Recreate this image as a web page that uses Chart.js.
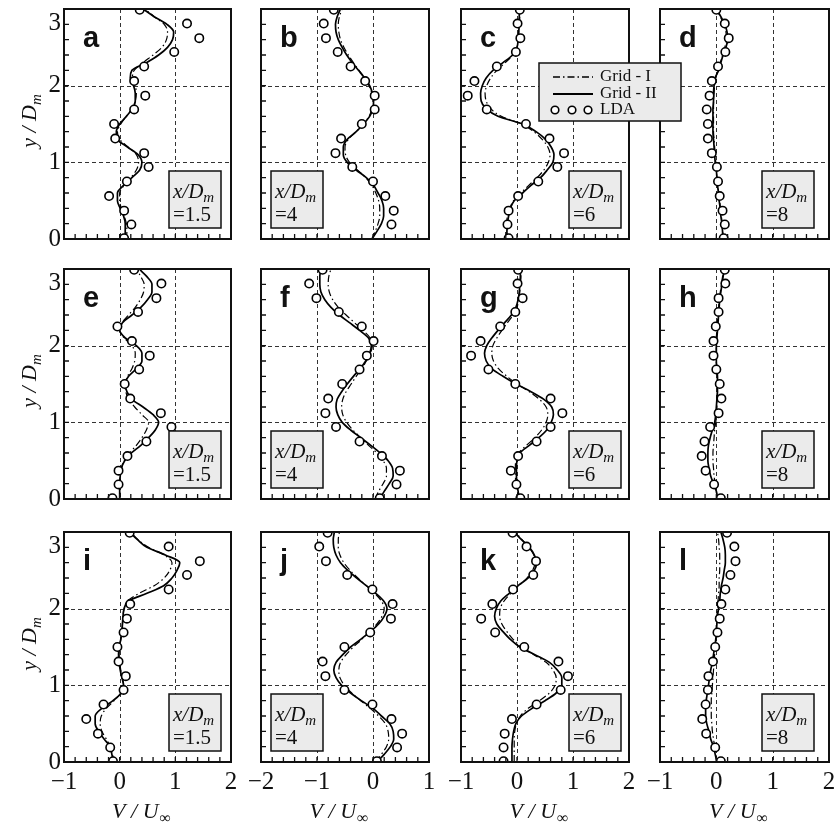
<!DOCTYPE html>
<html>
<head>
<meta charset="utf-8">
<script src="https://cdn.jsdelivr.net/npm/chart.js@4.4.1/dist/chart.umd.min.js"></script>
<style>
  html, body { margin: 0; padding: 0; background: #fff; }
  #figure { position: relative; width: 834px; height: 830px; overflow: hidden; }
  #figure canvas { position: absolute; }
</style>
</head>
<body>
<div id="figure"></div>
<script>
// heights (y / D_m) where the simulated profiles are sampled
const yKnots = [0.0, 0.1, 0.2, 0.3, 0.4, 0.5, 0.6, 0.7, 0.8, 0.9, 1.0, 1.1, 1.2, 1.3, 1.4, 1.5,
                1.6, 1.7, 1.8, 1.9, 2.0, 2.1, 2.2, 2.3, 2.4, 2.5, 2.6, 2.7, 2.8, 2.9, 3.0];
// LDA measuring stations (y / D_m)
const ldaY = [0.01, 0.19, 0.37, 0.56, 0.75, 0.94, 1.12, 1.31, 1.50, 1.69, 1.87, 2.06, 2.25, 2.44, 2.62, 2.81, 2.99];

const panelLetters = ["a", "b", "c", "d", "e", "f", "g", "h", "i", "j", "k", "l"];
const stations = ["1.5", "4", "6", "8"];          // x / D_m of each column
const xRanges = [[-1, 2], [-2, 1], [-1, 2], [-1, 2]];
const yTicks = [0, 1, 2, 3];
const legendLabels = ["Grid - I", "Grid - II", "LDA"];

// V / U_inf, row 1 (x/D_m = 1.5, 4, 6, 8)
const grid1A = [0.12, 0.13, 0.12, 0.08, 0.03, 0.0, 0.0, 0.08, 0.20, 0.30, 0.34, 0.30, 0.15, 0.0, -0.04, 0.02, 0.12, 0.22, 0.28, 0.30, 0.28, 0.23, 0.26, 0.42, 0.60, 0.76, 0.84, 0.86, 0.80, 0.62, 0.45];
const grid2A = [0.10, 0.10, 0.10, 0.07, 0.01, -0.04, -0.04, 0.07, 0.22, 0.36, 0.40, 0.33, 0.14, -0.04, -0.06, 0.0, 0.12, 0.23, 0.28, 0.28, 0.25, 0.19, 0.22, 0.48, 0.70, 0.86, 0.95, 0.97, 0.85, 0.62, 0.42];
const ldaA = [0.08, 0.21, 0.08, -0.19, 0.13, 0.52, 0.44, -0.08, -0.10, 0.26, 0.46, 0.26, 0.44, 0.98, 1.43, 1.21, 0.36];

const grid1B = [-0.02, 0.04, 0.09, 0.12, 0.12, 0.10, 0.05, -0.02, -0.13, -0.28, -0.42, -0.49, -0.50, -0.44, -0.30, -0.17, -0.07, -0.02, 0.0, -0.02, -0.07, -0.15, -0.25, -0.35, -0.44, -0.52, -0.58, -0.61, -0.62, -0.60, -0.55];
const grid2B = [-0.02, 0.07, 0.15, 0.19, 0.19, 0.16, 0.09, 0.01, -0.12, -0.30, -0.46, -0.53, -0.53, -0.46, -0.30, -0.17, -0.06, 0.0, 0.01, -0.01, -0.06, -0.15, -0.26, -0.37, -0.47, -0.55, -0.62, -0.66, -0.67, -0.64, -0.58];
const ldaB = [null, 0.33, 0.37, 0.22, 0.0, -0.37, -0.67, -0.57, -0.20, 0.03, 0.03, -0.14, -0.40, -0.63, -0.84, -0.88, -0.70];

const grid1C = [-0.20, -0.20, -0.19, -0.17, -0.13, -0.06, 0.07, 0.21, 0.36, 0.48, 0.56, 0.59, 0.55, 0.45, 0.30, 0.08, -0.28, -0.47, -0.55, -0.57, -0.54, -0.47, -0.36, -0.21, -0.07, 0.0, 0.02, 0.03, 0.04, 0.05, 0.06];
const grid2C = [-0.18, -0.18, -0.17, -0.15, -0.12, -0.05, 0.10, 0.25, 0.42, 0.54, 0.64, 0.66, 0.61, 0.51, 0.34, 0.10, -0.34, -0.55, -0.64, -0.65, -0.62, -0.55, -0.43, -0.25, -0.08, 0.0, 0.02, 0.03, 0.04, 0.04, 0.05];
const ldaC = [-0.15, -0.17, -0.15, 0.02, 0.38, 0.72, 0.84, 0.58, 0.16, -0.54, -0.88, -0.76, -0.36, -0.02, 0.06, 0.01, 0.05];

const grid1D = [0.12, 0.11, 0.10, 0.09, 0.07, 0.06, 0.04, 0.03, 0.01, 0.0, -0.01, -0.02, -0.03, -0.04, -0.05, -0.05, -0.05, -0.05, -0.05, -0.04, -0.03, -0.01, 0.03, 0.07, 0.11, 0.15, 0.18, 0.17, 0.13, 0.07, 0.0];
const grid2D = [0.12, 0.11, 0.10, 0.08, 0.07, 0.05, 0.04, 0.02, 0.01, 0.0, -0.02, -0.03, -0.04, -0.05, -0.06, -0.06, -0.06, -0.06, -0.05, -0.05, -0.04, -0.02, 0.04, 0.08, 0.12, 0.17, 0.20, 0.19, 0.15, 0.08, 0.0];
const ldaD = [0.13, 0.15, 0.11, 0.06, 0.03, 0.01, -0.08, -0.15, -0.15, -0.17, -0.12, -0.08, 0.03, 0.16, 0.22, 0.15, 0.0];

// row 2
const grid1E = [0.0, 0.0, 0.0, 0.01, 0.03, 0.08, 0.18, 0.30, 0.40, 0.48, 0.52, 0.40, 0.27, 0.16, 0.11, 0.10, 0.14, 0.22, 0.27, 0.28, 0.22, 0.08, 0.0, 0.04, 0.16, 0.28, 0.37, 0.43, 0.44, 0.38, 0.30];
const grid2E = [0.0, 0.0, 0.0, 0.01, 0.03, 0.09, 0.21, 0.38, 0.52, 0.64, 0.70, 0.60, 0.42, 0.22, 0.13, 0.10, 0.16, 0.30, 0.40, 0.40, 0.30, 0.10, 0.0, 0.05, 0.22, 0.38, 0.50, 0.58, 0.58, 0.49, 0.35];
const ldaE = [-0.13, -0.02, -0.02, 0.14, 0.48, 0.93, 0.74, 0.19, 0.09, 0.35, 0.54, 0.22, -0.04, 0.33, 0.66, 0.75, 0.26];

const grid1F = [0.04, 0.10, 0.18, 0.24, 0.24, 0.18, 0.07, -0.08, -0.22, -0.36, -0.47, -0.54, -0.56, -0.54, -0.48, -0.39, -0.30, -0.20, -0.12, -0.05, -0.01, -0.05, -0.18, -0.33, -0.48, -0.62, -0.72, -0.78, -0.80, -0.79, -0.75];
const grid2F = [0.12, 0.20, 0.29, 0.36, 0.35, 0.27, 0.13, -0.04, -0.22, -0.40, -0.55, -0.63, -0.66, -0.64, -0.56, -0.46, -0.35, -0.23, -0.13, -0.06, -0.03, -0.08, -0.24, -0.42, -0.60, -0.75, -0.86, -0.93, -0.95, -0.95, -0.93];
const ldaF = [0.12, 0.42, 0.48, 0.16, -0.24, -0.66, -0.85, -0.80, -0.55, -0.24, -0.11, 0.01, -0.20, -0.61, -1.01, -1.14, -0.90];

const grid1G = [0.03, 0.01, -0.01, -0.03, -0.03, -0.02, 0.03, 0.17, 0.32, 0.44, 0.52, 0.55, 0.52, 0.40, 0.22, 0.0, -0.18, -0.33, -0.42, -0.45, -0.43, -0.36, -0.27, -0.17, -0.07, 0.0, 0.03, 0.05, 0.06, 0.07, 0.07];
const grid2G = [0.04, 0.02, 0.0, -0.01, -0.01, 0.0, 0.05, 0.22, 0.39, 0.53, 0.61, 0.65, 0.62, 0.48, 0.25, -0.02, -0.25, -0.45, -0.55, -0.58, -0.54, -0.45, -0.34, -0.22, -0.10, -0.02, 0.02, 0.04, 0.05, 0.06, 0.06];
const ldaG = [0.06, -0.01, -0.11, 0.02, 0.35, 0.60, 0.81, 0.60, -0.03, -0.51, -0.82, -0.65, -0.30, -0.03, 0.10, 0.01, 0.02];

const grid1H = [0.02, 0.0, -0.02, -0.04, -0.05, -0.06, -0.06, -0.05, -0.04, -0.03, -0.01, 0.0, 0.01, 0.01, 0.02, 0.02, 0.02, 0.01, 0.0, 0.0, 0.0, 0.0, 0.01, 0.02, 0.03, 0.04, 0.05, 0.07, 0.09, 0.11, 0.13];
const grid2H = [0.02, 0.0, -0.05, -0.10, -0.13, -0.15, -0.15, -0.14, -0.11, -0.07, -0.03, -0.01, 0.0, 0.01, 0.02, 0.02, 0.02, 0.01, 0.0, 0.0, 0.0, 0.01, 0.02, 0.03, 0.04, 0.05, 0.06, 0.08, 0.10, 0.12, 0.14];
const ldaH = [0.08, -0.04, -0.19, -0.26, -0.21, -0.11, 0.04, 0.09, 0.06, 0.0, -0.05, -0.05, -0.01, 0.04, 0.04, 0.16, 0.15];

// row 3
const grid1I = [-0.10, -0.13, -0.17, -0.24, -0.32, -0.35, -0.33, -0.24, -0.10, 0.02, 0.07, 0.05, 0.02, 0.0, -0.01, 0.0, 0.02, 0.04, 0.05, 0.06, 0.08, 0.14, 0.35, 0.62, 0.80, 0.90, 0.94, 0.80, 0.52, 0.33, 0.20];
const grid2I = [-0.11, -0.14, -0.17, -0.28, -0.38, -0.44, -0.44, -0.32, -0.12, 0.03, 0.07, 0.04, 0.01, -0.01, -0.02, -0.01, 0.02, 0.04, 0.05, 0.06, 0.08, 0.16, 0.49, 0.79, 0.94, 1.03, 1.08, 0.82, 0.49, 0.32, 0.18];
const ldaI = [-0.12, -0.17, -0.39, -0.60, -0.29, 0.07, 0.11, -0.02, -0.04, 0.07, 0.13, 0.19, 0.88, 1.21, 1.44, 0.88, 0.18];

const grid1J = [0.05, 0.15, 0.24, 0.28, 0.27, 0.22, 0.10, -0.05, -0.22, -0.38, -0.51, -0.59, -0.61, -0.58, -0.48, -0.35, -0.20, -0.06, 0.07, 0.16, 0.20, 0.15, 0.03, -0.12, -0.27, -0.41, -0.52, -0.59, -0.62, -0.62, -0.60];
const grid2J = [0.07, 0.20, 0.31, 0.37, 0.36, 0.30, 0.15, 0.0, -0.21, -0.40, -0.56, -0.66, -0.70, -0.66, -0.54, -0.40, -0.22, -0.05, 0.10, 0.20, 0.25, 0.19, 0.05, -0.12, -0.29, -0.45, -0.58, -0.66, -0.70, -0.71, -0.69];
const ldaJ = [0.07, 0.43, 0.52, 0.33, -0.01, -0.51, -0.85, -0.90, -0.51, -0.05, 0.32, 0.35, -0.01, -0.46, -0.84, -0.96, -0.81];

const grid1K = [-0.05, -0.05, -0.05, -0.05, -0.04, -0.01, 0.06, 0.20, 0.40, 0.58, 0.68, 0.70, 0.64, 0.52, 0.30, 0.08, -0.07, -0.18, -0.27, -0.31, -0.30, -0.23, -0.11, 0.03, 0.18, 0.28, 0.32, 0.30, 0.21, 0.09, -0.03];
const grid2K = [-0.09, -0.09, -0.09, -0.08, -0.06, -0.02, 0.08, 0.27, 0.50, 0.70, 0.80, 0.80, 0.72, 0.58, 0.32, 0.05, -0.12, -0.25, -0.36, -0.40, -0.37, -0.29, -0.14, 0.02, 0.20, 0.31, 0.35, 0.31, 0.22, 0.08, -0.05];
const ldaK = [-0.24, -0.24, -0.22, -0.09, 0.35, 0.78, 0.91, 0.74, 0.13, -0.39, -0.64, -0.44, -0.07, 0.29, 0.34, 0.17, -0.08];

const grid1L = [0.01, -0.01, -0.03, -0.05, -0.07, -0.08, -0.09, -0.09, -0.09, -0.08, -0.07, -0.06, -0.05, -0.04, -0.03, -0.02, -0.01, 0.0, 0.0, 0.01, 0.02, 0.03, 0.04, 0.05, 0.05, 0.06, 0.06, 0.06, 0.05, 0.04, 0.02];
const grid2L = [0.01, -0.02, -0.05, -0.10, -0.13, -0.17, -0.19, -0.19, -0.18, -0.16, -0.14, -0.12, -0.10, -0.07, -0.05, -0.03, -0.01, 0.0, 0.01, 0.02, 0.04, 0.06, 0.07, 0.09, 0.12, 0.14, 0.16, 0.16, 0.15, 0.12, 0.08];
const ldaL = [0.08, -0.02, -0.18, -0.25, -0.19, -0.15, -0.14, -0.06, -0.02, 0.02, 0.06, 0.09, 0.16, 0.25, 0.34, 0.32, 0.19];

const grid1Sets = [grid1A, grid1B, grid1C, grid1D, grid1E, grid1F, grid1G, grid1H, grid1I, grid1J, grid1K, grid1L];
const grid2Sets = [grid2A, grid2B, grid2C, grid2D, grid2E, grid2F, grid2G, grid2H, grid2I, grid2J, grid2K, grid2L];
const ldaSets = [ldaA, ldaB, ldaC, ldaD, ldaE, ldaF, ldaG, ldaH, ldaI, ldaJ, ldaK, ldaL];

// page geometry of the plot frames
const plotLeft = [64, 261, 461, 660];
const plotWidth = [167, 168, 168, 169];
const plotTop = [9, 269, 532];
const plotHeight = 230;
const axisRoom = 64, topRoom = 10, bottomRoom = 70;
const boxOffset = [105, 10, 108, 102];   // x/D_m label box, from frame left

const SERIF = '"Liberation Serif", "Times New Roman", serif';
const SANS = '"Liberation Sans", Arial, sans-serif';
const BOX_FILL = "#ebebeb";

const minus = v => (v < 0 ? "\u2212" + Math.abs(v) : String(v));

// draw a run of text pieces (main text + subscript), starting at x
function drawPieces(ctx, pieces, x, y) {
  pieces.forEach(p => {
    ctx.font = p.font;
    ctx.fillText(p.text, x, y + (p.dy || 0));
    x += ctx.measureText(p.text).width + (p.gap || 0);
  });
}
function piecesWidth(ctx, pieces) {
  return pieces.reduce((w, p) => { ctx.font = p.font; return w + ctx.measureText(p.text).width + (p.gap || 0); }, 0);
}

// dashed grid, inward minor ticks and the frame
const framePlugin = {
  id: "frame",
  beforeDatasetsDraw(chart) {
    const { ctx, chartArea: a, scales: { x, y } } = chart;
    ctx.save();
    ctx.strokeStyle = "#333";
    ctx.lineWidth = 1;
    ctx.setLineDash([4, 3]);
    ctx.beginPath();
    for (let v = x.min + 1; v < x.max; v++) {
      const px = Math.round(x.getPixelForValue(v)) + 0.5;
      ctx.moveTo(px, a.top); ctx.lineTo(px, a.bottom);
    }
    for (let v = y.min + 1; v < y.max; v++) {
      const py = Math.round(y.getPixelForValue(v)) + 0.5;
      ctx.moveTo(a.left, py); ctx.lineTo(a.right, py);
    }
    ctx.stroke();
    ctx.restore();
  },
  afterDatasetsDraw(chart) {
    const { ctx, chartArea: a, scales: { x, y } } = chart;
    ctx.save();
    ctx.strokeStyle = "#111";
    ctx.lineWidth = 1.3;
    ctx.beginPath();
    for (let k = 1; k < 15; k++) {
      const px = x.getPixelForValue(x.min + k * 0.2);
      ctx.moveTo(px, a.bottom); ctx.lineTo(px, a.bottom - 5);
      const py = y.getPixelForValue(y.min + k * 0.2);
      ctx.moveTo(a.left, py); ctx.lineTo(a.left + 5, py);
    }
    ctx.stroke();
    ctx.lineWidth = 2;
    ctx.strokeRect(a.left, a.top, a.right - a.left, a.bottom - a.top);
    ctx.restore();
  }
};

function makeDecor(i, col, row) {
  return {
    id: "decor",
    afterDraw(chart) {
      const { ctx, chartArea: a, scales: { y } } = chart;
      ctx.save();
      ctx.fillStyle = "#111";
      ctx.strokeStyle = "#111";

      // panel letter
      ctx.font = "bold 29px " + SANS;
      ctx.textAlign = "left";
      ctx.textBaseline = "alphabetic";
      ctx.fillText(panelLetters[i], a.left + 19, a.top + 38);

      // station box
      const bx = a.left + boxOffset[col], bw = 52, bh = 57;
      const by = a.bottom - 11 - bh;
      ctx.fillStyle = BOX_FILL;
      ctx.fillRect(bx, by, bw, bh);
      ctx.lineWidth = 1.5;
      ctx.strokeRect(bx, by, bw, bh);
      ctx.fillStyle = "#111";
      drawPieces(ctx, [
        { text: "x/D", font: "italic 21px " + SERIF },
        { text: "m", font: "italic 15px " + SERIF, dy: 4 }
      ], bx + 4, by + 27);
      ctx.font = "21px " + SERIF;
      ctx.fillText("=" + stations[col], bx + 4, by + 50);

      // y ticks and title on the left column
      if (col === 0) {
        ctx.font = "25px " + SERIF;
        ctx.textAlign = "right";
        ctx.textBaseline = "middle";
        yTicks.forEach(v => {
          const py = Math.max(y.getPixelForValue(v), a.top + 14);
          ctx.fillText(String(v), a.left - 3, py);
        });
        const title = [
          { text: "y / D", font: "italic 22px " + SERIF },
          { text: "m", font: "italic 15px " + SERIF, dy: 5 }
        ];
        ctx.save();
        ctx.translate(28, (a.top + a.bottom) / 2 - 3);
        ctx.rotate(-Math.PI / 2);
        ctx.textAlign = "left";
        ctx.textBaseline = "alphabetic";
        drawPieces(ctx, title, -piecesWidth(ctx, title) / 2, 8);
        ctx.restore();
      }

      // x title under the bottom row
      if (row === 2) {
        const title = [
          { text: "V / U", font: "italic 22px " + SERIF, gap: 1 },
          { text: "\u221e", font: "16px " + SERIF, dy: 5 }
        ];
        ctx.textAlign = "left";
        ctx.textBaseline = "alphabetic";
        const cx = (a.left + a.right) / 2 - 6;
        drawPieces(ctx, title, cx - piecesWidth(ctx, title) / 2, a.bottom + 56);
      }

      // legend, placed in panel c and overlapping panel d
      if (i === 2) {
        const lx = a.left + 78, ly = a.top + 54, lw = 142, lh = 58;
        ctx.fillStyle = BOX_FILL;
        ctx.fillRect(lx, ly, lw, lh);
        ctx.lineWidth = 1.5;
        ctx.strokeRect(lx, ly, lw, lh);
        const rows = [ly + 14, ly + 31, ly + 47];
        ctx.strokeStyle = "#000";
        ctx.lineWidth = 1.3;
        ctx.setLineDash([7, 3, 1.5, 3]);
        ctx.beginPath(); ctx.moveTo(lx + 14, rows[0]); ctx.lineTo(lx + 54, rows[0]); ctx.stroke();
        ctx.setLineDash([]);
        ctx.lineWidth = 1.8;
        ctx.beginPath(); ctx.moveTo(lx + 14, rows[1]); ctx.lineTo(lx + 54, rows[1]); ctx.stroke();
        ctx.fillStyle = "#fff";
        ctx.lineWidth = 1.6;
        [16, 33, 49].forEach(dx => {
          ctx.beginPath();
          ctx.arc(lx + dx, rows[2], 3.8, 0, Math.PI * 2);
          ctx.fill(); ctx.stroke();
        });
        ctx.fillStyle = "#111";
        ctx.font = "17px " + SERIF;
        ctx.textAlign = "left";
        ctx.textBaseline = "middle";
        legendLabels.forEach((t, k) => ctx.fillText(t, lx + 61, rows[k]));
      }
      ctx.restore();
    }
  };
}

const figure = document.getElementById("figure");

panelLetters.forEach((letter, i) => {
  const col = i % 4, row = Math.floor(i / 4);
  const padRight = col === 2 ? 60 : 6;
  const canvas = document.createElement("canvas");
  canvas.width = axisRoom + plotWidth[col] + padRight;
  canvas.height = topRoom + plotHeight + bottomRoom;
  canvas.style.left = (plotLeft[col] - axisRoom) + "px";
  canvas.style.top = (plotTop[row] - topRoom) + "px";
  canvas.style.zIndex = col === 2 ? 2 : 1;
  figure.appendChild(canvas);

  const curve = vals => yKnots.map((y, k) => ({ x: vals[k], y }));
  const lda = ldaY.map((y, k) => ({ x: ldaSets[i][k], y }));
  const fitScale = (s, key, size) => {
    s[key] = size;
    s.paddingLeft = s.paddingRight = s.paddingTop = s.paddingBottom = 0;
  };

  new Chart(canvas, {
    type: "line",
    data: {
      datasets: [
        {
          label: "LDA", data: lda, showLine: false, clip: 0,
          pointRadius: 4.2, pointBorderWidth: 1.6,
          pointBackgroundColor: "#fff", pointBorderColor: "#000"
        },
        {
          label: "Grid - II", data: curve(grid2Sets[i]), clip: 0,
          borderColor: "#000", borderWidth: 1.7, pointRadius: 0,
          cubicInterpolationMode: "monotone"
        },
        {
          label: "Grid - I", data: curve(grid1Sets[i]), clip: 0,
          borderColor: "#000", borderWidth: 1.2, borderDash: [7, 3, 1.5, 3], pointRadius: 0,
          cubicInterpolationMode: "monotone"
        }
      ]
    },
    options: {
      indexAxis: "y",
      responsive: false,
      animation: false,
      events: [],
      layout: { padding: { left: 0, top: topRoom, right: padRight, bottom: 0 } },
      plugins: { legend: { display: false }, tooltip: { enabled: false } },
      scales: {
        x: {
          type: "linear",
          min: xRanges[col][0],
          max: xRanges[col][1],
          grid: { display: false },
          border: { display: false },
          ticks: {
            display: row === 2,
            stepSize: 1,
            padding: -3,
            color: "#111",
            font: { family: SERIF, size: 25 },
            callback: v => minus(v)
          },
          afterFit: s => fitScale(s, "height", bottomRoom)
        },
        y: {
          type: "linear",
          min: 0,
          max: 3,
          grid: { display: false },
          border: { display: false },
          ticks: { display: false },
          afterFit: s => fitScale(s, "width", axisRoom)
        }
      }
    },
    plugins: [framePlugin, makeDecor(i, col, row)]
  });
});
</script>
</body>
</html>
